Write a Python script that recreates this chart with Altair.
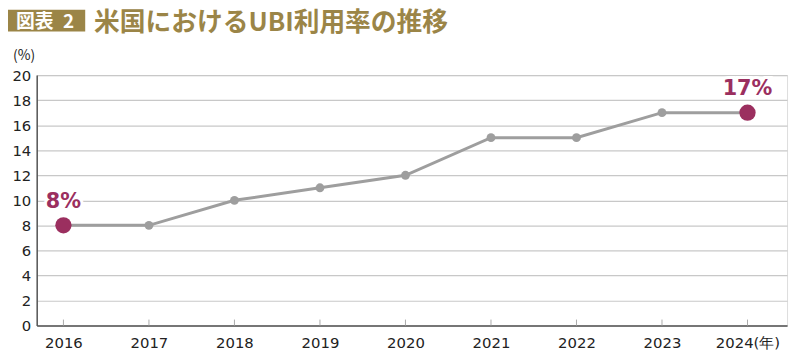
import altair as alt
import pandas as pd

years = [2016, 2017, 2018, 2019, 2020, 2021, 2022, 2023, 2024]
rates = [8, 8, 10, 11, 12, 15, 15, 17, 17]
highlight_years = [2016, 2024]
highlight_labels = ["8%", "17%"]
y_ticks = [0, 2, 4, 6, 8, 10, 12, 14, 16, 18, 20]

GOLD = "#9B8547"
MAROON = "#9B2F5F"
LINE = "#9E9E9E"
JFONT = "Noto Sans CJK JP"
NFONT = "DejaVu Sans"
W, H = 758, 253

df = pd.DataFrame({"year": years, "rate": rates})
hl = pd.DataFrame({
    "year": highlight_years,
    "rate": [rates[years.index(y)] for y in highlight_years],
    "label": highlight_labels,
})

xs = alt.Scale(domain=[2015.6875, 2024.4625], nice=False, zero=False)
ys = alt.Scale(domain=[0, 20], nice=False)

x_enc = alt.X("year:Q", scale=xs, axis=alt.Axis(
    values=years, grid=False, ticks=False, domainColor="#555555", domainWidth=1.5,
    labelExpr="datum.value == 2024 ? '2024(年)' : datum.value",
    labelFont=NFONT, labelFontSize=15, labelColor="#222222", labelPadding=10,
    labelBaseline="top", title=None, labelFlush=False, labelOverlap=False))
y_enc = alt.Y("rate:Q", scale=ys, axis=alt.Axis(
    values=y_ticks, gridColor="#C8C8C8", gridWidth=1.2, ticks=False,
    domainColor="#555555", domainWidth=1.5, labelFont=NFONT, labelFontSize=15,
    labelColor="#222222", labelPadding=6, title=None, labelOverlap=False))

base = alt.Chart(df)

line = base.mark_line(color=LINE, strokeWidth=3).encode(x=x_enc, y=y_enc)
pts = base.mark_circle(color=LINE, size=80, opacity=1).encode(x=x_enc, y=y_enc)
xticks = base.mark_rule(color="#AAAAAA", strokeWidth=1).encode(
    x=x_enc, y=alt.value(H - 6), y2=alt.value(H))

hl_base = alt.Chart(hl)
hl_pts = hl_base.mark_circle(color=MAROON, size=270, opacity=1).encode(x=x_enc, y=y_enc)
hl_halo = hl_base.mark_text(font=NFONT, fontSize=21, fontWeight="bold", color="white",
                            stroke="white", strokeWidth=6, dy=-24).encode(
    x=x_enc, y=y_enc, text="label:N")
hl_txt = hl_base.mark_text(font=NFONT, fontSize=21, fontWeight="bold", color=MAROON,
                           dy=-24).encode(x=x_enc, y=y_enc, text="label:N")

one = pd.DataFrame({"t": [0]})
box = alt.Chart(one).mark_rect(color=GOLD).encode(
    x=alt.value(-32), x2=alt.value(49), y=alt.value(-66), y2=alt.value(-44))
box_txt = alt.Chart(one).mark_text(text="図表\u20022", font=JFONT, fontSize=19, fontWeight="bold",
                                   color="white", align="center", baseline="middle").encode(
    x=alt.value(8.5), y=alt.value(-54))
title_txt = alt.Chart(one).mark_text(text="米国におけるUBI利用率の推移", font=JFONT, fontSize=26,
                                     fontWeight="bold", color=GOLD, align="left",
                                     baseline="middle").encode(
    x=alt.value(58), y=alt.value(-53))
unit_txt = alt.Chart(one).mark_text(text="(%)", font=JFONT, fontSize=14, color="#222222",
                                    align="left", baseline="middle").encode(
    x=alt.value(-24), y=alt.value(-19))

chart = alt.layer(
    line, xticks, pts, hl_pts, hl_halo, hl_txt, box, box_txt, title_txt, unit_txt
).properties(
    width=W, height=H,
    autosize=alt.AutoSizeParams(type="none"),
    padding={"left": 29, "top": 66, "right": 5, "bottom": 27},
).configure_view(stroke=None).configure(background="white")

chart.save("out.html", embed_options={"renderer": "svg", "actions": False})
